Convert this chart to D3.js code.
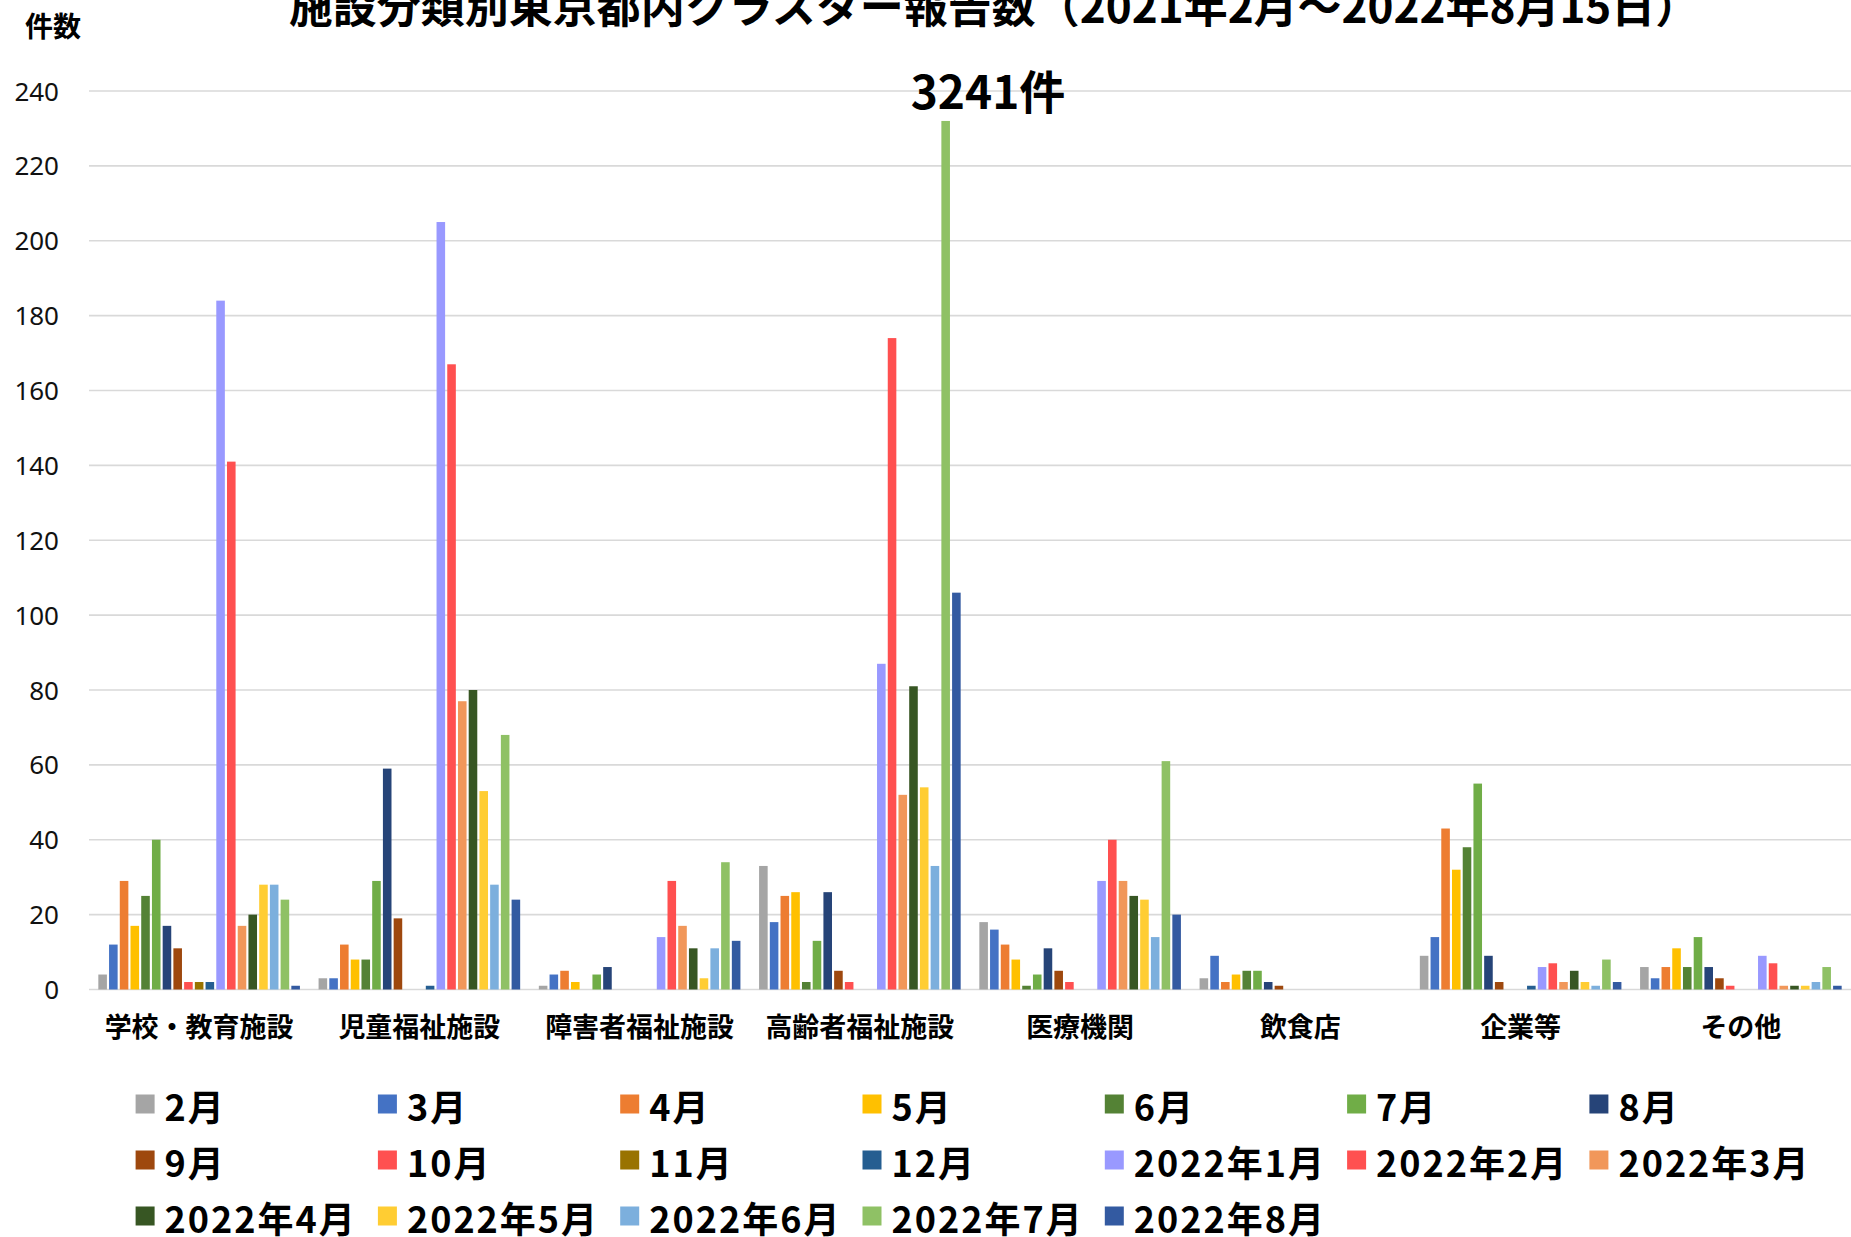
<!DOCTYPE html>
<html><head><meta charset="utf-8">
<script src="https://cdn.jsdelivr.net/npm/d3@7"></script>
<style>html,body{margin:0;padding:0;background:#fff;overflow:hidden}svg{display:block}</style>
</head><body>
<svg id="chart" width="1851" height="1237"></svg>
<script>
// ---- data ----
const categories = ["学校・教育施設","児童福祉施設","障害者福祉施設","高齢者福祉施設","医療機関","飲食店","企業等","その他"];
const seriesNames = ["2月","3月","4月","5月","6月","7月","8月","9月","10月","11月","12月",
  "2022年1月","2022年2月","2022年3月","2022年4月","2022年5月","2022年6月","2022年7月","2022年8月"];
const yTicks = [0,20,40,60,80,100,120,140,160,180,200,220,240];
const school       = [4,12,29,17,25,40,17,11,2,2,2,184,141,17,20,28,28,24,1];
const childWelfare = [3,3,12,8,8,29,59,19,0,0,1,205,167,77,80,53,28,68,24];
const disability   = [1,4,5,2,0,4,6,0,0,0,0,14,29,17,11,3,11,34,13];
const elderly      = [33,18,25,26,2,13,26,5,2,0,0,87,174,52,81,54,33,232,106];
const medical      = [18,16,12,8,1,4,11,5,2,0,0,29,40,29,25,24,14,61,20];
const restaurant   = [3,9,2,4,5,5,2,1,0,0,0,0,0,0,0,0,0,0,0];
const company      = [9,14,43,32,38,55,9,2,0,0,1,6,7,2,5,2,1,8,2];
const others       = [6,3,6,11,6,14,6,3,1,0,0,9,7,1,1,1,2,6,1];
const titleText = "施設分類別東京都内クラスター報告数（2021年2月～2022年8月15日）";
const yAxisTitle = "件数";
const totalLabel = "3241件";

// ---- styles ----
const colors = ["#A5A5A5","#4472C4","#ED7D31","#FFC000","#548235","#70AD47","#264478","#9E480E","#FF5050","#997300","#255E91",
  "#9999FF","#FF5050","#F1975A","#375623","#FFCD33","#7CAFDD","#8FC165","#335AA1"];

const values = [school, childWelfare, disability, elderly, medical, restaurant, company, others];
const rows = categories.map((c, i) => ({category: c, vals: values[i]}));

const svg = d3.select("#chart");
const JP = "'Noto Sans CJK JP','Noto Sans',sans-serif";

const x0 = d3.scaleBand().domain(categories).range([89, 1851]).paddingInner(0.075).paddingOuter(0.0375);
const x1 = d3.scaleBand().domain(seriesNames).range([0, x0.bandwidth()]).paddingInner(0.2).paddingOuter(0.1);
const y = d3.scaleLinear().domain([0, 240]).range([989.5, 91]);

// gridlines
svg.append("g").selectAll("line").data(yTicks).join("line")
  .attr("x1", 89).attr("x2", 1851)
  .attr("y1", d => y(d)).attr("y2", d => y(d))
  .attr("stroke", "#D9D9D9").attr("stroke-width", 1.6);

// y axis labels
const yAxis = d3.axisLeft(y).tickValues(yTicks).tickSize(0).tickPadding(0);
const yg = svg.append("g").attr("transform", "translate(59,0)").call(yAxis);
yg.select(".domain").remove();
yg.selectAll("text").attr("font-family", "'Noto Sans',sans-serif").attr("font-size", 26)
  .attr("fill", "#111").attr("dy", "0.35em");

// bars
const groups = svg.append("g").selectAll("g").data(rows).join("g")
  .attr("transform", d => `translate(${x0(d.category)},0)`);
groups.selectAll("rect").data(d => d.vals.map((v, i) => ({name: seriesNames[i], v, i}))).join("rect")
  .attr("x", d => x1(d.name)).attr("width", x1.bandwidth())
  .attr("y", d => y(d.v)).attr("height", d => y(0) - y(d.v))
  .attr("fill", d => colors[d.i]);

// x axis labels
const xAxis = d3.axisBottom(x0).tickSize(0).tickPadding(0);
const xg = svg.append("g").attr("transform", "translate(0,1037)").call(xAxis);
xg.select(".domain").remove();
xg.selectAll("text").attr("font-family", JP).attr("font-size", 27).attr("font-weight", "bold")
  .attr("fill", "#000").attr("dy", 0);

// title (partially cut at top, as in the reference)
svg.append("text").attr("x", 994).attr("y", 23).attr("text-anchor", "middle")
  .attr("font-family", JP).attr("font-size", 44).attr("font-weight", "bold").attr("fill", "#000")
  .text(titleText);

svg.append("text").attr("x", 25).attr("y", 37)
  .attr("font-family", JP).attr("font-size", 28).attr("font-weight", "bold").attr("fill", "#000")
  .text(yAxisTitle);

svg.append("text").attr("x", 988).attr("y", 109).attr("text-anchor", "middle")
  .attr("font-family", JP).attr("font-size", 46).attr("font-weight", "bold").attr("fill", "#000")
  .text(totalLabel);

// legend
const legend = svg.append("g").selectAll("g").data(seriesNames).join("g")
  .attr("transform", (d, i) => `translate(${135.6 + (i % 7) * 242.3},${1104 + Math.floor(i / 7) * 56})`);
legend.append("rect").attr("x", 0).attr("y", -9.5).attr("width", 19).attr("height", 19)
  .attr("fill", (d, i) => colors[i]);
legend.append("text").attr("x", 29).attr("y", 17)
  .attr("font-family", JP).attr("font-size", 36).attr("font-weight", "bold").attr("fill", "#000")
  .attr("letter-spacing", 2)
  .text(d => d);
</script>
</body></html>
